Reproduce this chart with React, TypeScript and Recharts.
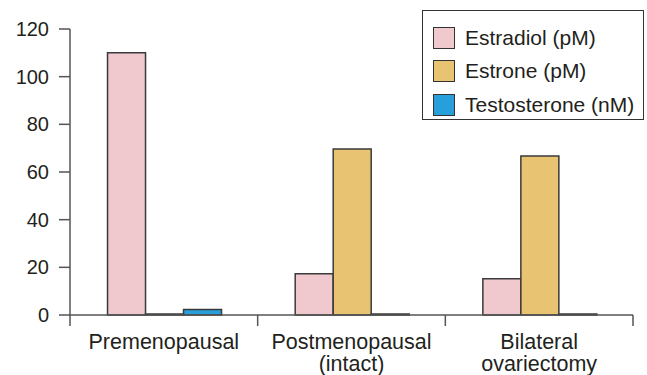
import React from "react";
import { BarChart, Bar, XAxis, YAxis, Legend } from "recharts";

document.body.style.margin = "0";

const categories = [["Premenopausal"], ["Postmenopausal", "(intact)"], ["Bilateral", "ovariectomy"]];
const estradiol = [110, 17.3, 15.2];
const estrone = [0.4, 69.6, 66.7];
const testosterone = [2.3, 0.4, 0.4];
const yTicks = [0, 20, 40, 60, 80, 100, 120];

const seriesNames = ["Estradiol (pM)", "Estrone (pM)", "Testosterone (nM)"];
const seriesColors = ["#f0c9ce", "#e8c372", "#279fdb"];

const data = categories.map((c, i) => ({
  name: c.join("\n"),
  estradiol: estradiol[i],
  estrone: estrone[i],
  testosterone: testosterone[i],
}));

const FONT = "'Liberation Sans', Arial, sans-serif";
const TEXT = "#231f20";
const AXIS = "#555555";

const XTick = (props: any) => {
  const { x, y, payload, index, width, visibleTicksCount } = props;
  const bw = width / visibleTicksCount;
  const lines = String(payload.value).split("\n");
  const axisY = y - 11;
  return (
    <g>
      {index === 0 && (
        <line x1={x - bw / 2} x2={x - bw / 2} y1={axisY} y2={axisY + 11} stroke={AXIS} strokeWidth={1.5} />
      )}
      <line x1={x + bw / 2} x2={x + bw / 2} y1={axisY} y2={axisY + 11} stroke={AXIS} strokeWidth={1.5} />
      {lines.map((l, i) => (
        <text key={i} x={x} y={axisY + 34 + i * 22} textAnchor="middle" fontSize={21.5} fontFamily={FONT} fill={TEXT}>
          {l}
        </text>
      ))}
    </g>
  );
};

const LegendBox = (props: any) => {
  const { payload } = props;
  return (
    <div
      style={{
        border: "1.5px solid #333",
        width: 222,
        height: 110,
        boxSizing: "border-box",
        background: "#fff",
        paddingTop: 10,
        paddingLeft: 10,
      }}
    >
      {(payload || []).map((p: any, i: number) => (
        <div key={i} style={{ display: "flex", alignItems: "center", height: 33.5 }}>
          <div
            style={{
              width: 22,
              height: 22,
              background: p.color,
              border: "1.5px solid #333",
              boxSizing: "border-box",
              marginRight: 10,
              flexShrink: 0,
            }}
          />
          <span style={{ fontFamily: FONT, fontSize: 21, color: TEXT, lineHeight: "22px", whiteSpace: "nowrap" }}>
            {p.value}
          </span>
        </div>
      ))}
    </div>
  );
};

export default function App() {
  return (
    <BarChart
      width={647}
      height={375}
      data={data}
      margin={{ top: 29, right: 14, bottom: 10, left: 0 }}
      barCategoryGap="20%"
      barGap={0}
    >
      <XAxis
        dataKey="name"
        height={50}
        axisLine={{ stroke: AXIS, strokeWidth: 1.5 }}
        tickLine={false}
        tickSize={11}
        tickMargin={0}
        interval={0}
        tick={<XTick />}
      />
      <YAxis
        width={70}
        domain={[0, 120]}
        ticks={yTicks}
        interval={0}
        axisLine={{ stroke: AXIS, strokeWidth: 1.5 }}
        tickLine={{ stroke: AXIS, strokeWidth: 1.5 }}
        tickSize={11}
        tickMargin={10}
        tick={{ fontSize: 20, fontFamily: FONT, fill: TEXT }}
      />
      <Legend
        layout="horizontal"
        align="center"
        verticalAlign="middle"
        content={<LegendBox />}
        wrapperStyle={{ left: 422, top: 10, width: 222, height: 110 }}
      />
      <Bar dataKey="estradiol" name={seriesNames[0]} fill={seriesColors[0]} stroke="#3a3a3a" strokeWidth={1.5} isAnimationActive={false} />
      <Bar dataKey="estrone" name={seriesNames[1]} fill={seriesColors[1]} stroke="#3a3a3a" strokeWidth={1.5} isAnimationActive={false} />
      <Bar dataKey="testosterone" name={seriesNames[2]} fill={seriesColors[2]} stroke="#3a3a3a" strokeWidth={1.5} isAnimationActive={false} />
    </BarChart>
  );
}
